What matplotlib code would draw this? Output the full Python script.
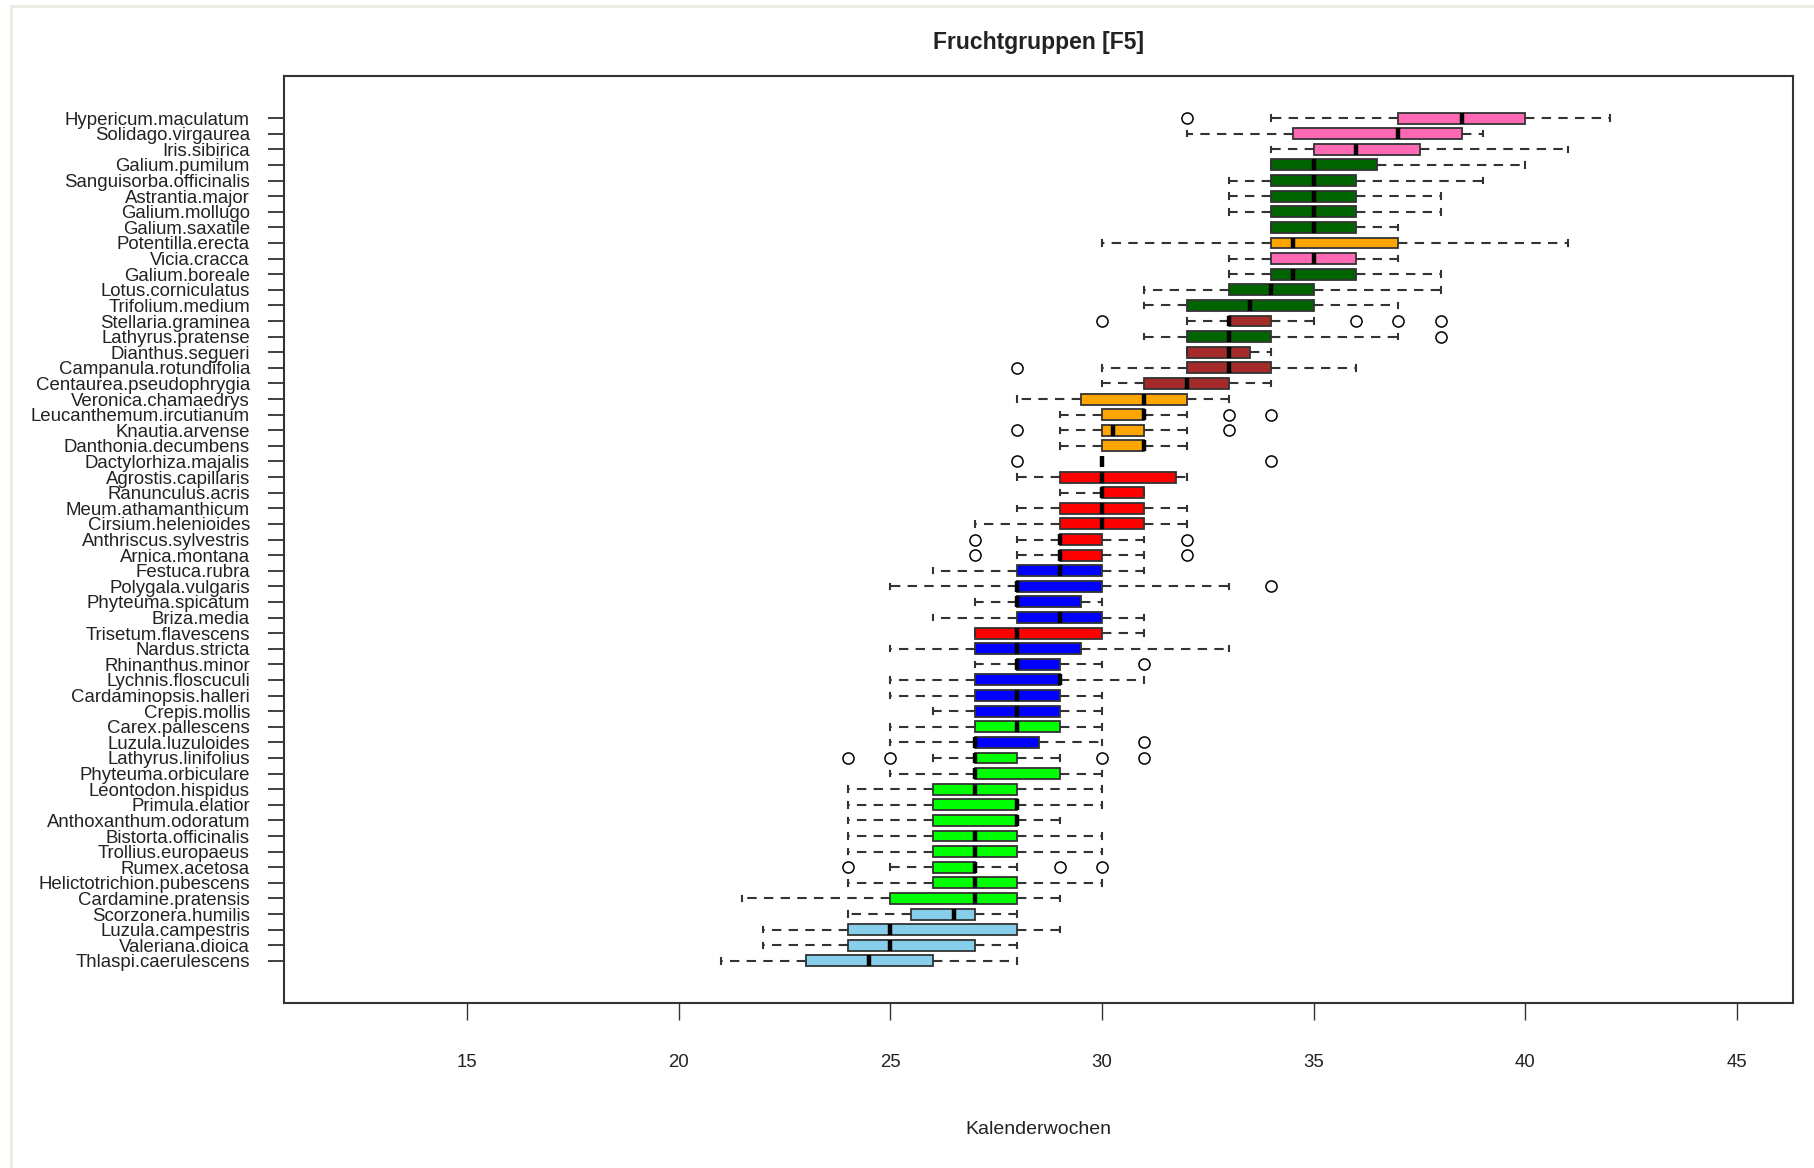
import matplotlib
matplotlib.use("Agg")
import matplotlib.pyplot as plt
from matplotlib.lines import Line2D

plt.rcParams['font.family'] = ['Liberation Sans', 'DejaVu Sans']

# Arten von oben nach unten, mit Fünf-Punkte-Zusammenfassung (Kalenderwochen)
species = [
    "Hypericum.maculatum", "Solidago.virgaurea", "Iris.sibirica", "Galium.pumilum",
    "Sanguisorba.officinalis", "Astrantia.major", "Galium.mollugo", "Galium.saxatile",
    "Potentilla.erecta", "Vicia.cracca", "Galium.boreale", "Lotus.corniculatus",
    "Trifolium.medium", "Stellaria.graminea", "Lathyrus.pratense", "Dianthus.segueri",
    "Campanula.rotundifolia", "Centaurea.pseudophrygia", "Veronica.chamaedrys",
    "Leucanthemum.ircutianum", "Knautia.arvense", "Danthonia.decumbens",
    "Dactylorhiza.majalis", "Agrostis.capillaris", "Ranunculus.acris",
    "Meum.athamanthicum", "Cirsium.helenioides", "Anthriscus.sylvestris",
    "Arnica.montana", "Festuca.rubra", "Polygala.vulgaris", "Phyteuma.spicatum",
    "Briza.media", "Trisetum.flavescens", "Nardus.stricta", "Rhinanthus.minor",
    "Lychnis.floscuculi", "Cardaminopsis.halleri", "Crepis.mollis", "Carex.pallescens",
    "Luzula.luzuloides", "Lathyrus.linifolius", "Phyteuma.orbiculare",
    "Leontodon.hispidus", "Primula.elatior", "Anthoxanthum.odoratum",
    "Bistorta.officinalis", "Trollius.europaeus", "Rumex.acetosa",
    "Helictotrichion.pubescens", "Cardamine.pratensis", "Scorzonera.humilis",
    "Luzula.campestris", "Valeriana.dioica", "Thlaspi.caerulescens",
]

whis_lo = [34, 32, 34, 34, 33, 33, 33, 34, 30, 33, 33, 31, 31, 32, 31, 32, 30, 30,
           28, 29, 29, 29, 30, 28, 29, 28, 27, 28, 28, 26, 25, 27, 26, 27, 25, 27,
           25, 25, 26, 25, 25, 26, 25, 24, 24, 24, 24, 24, 25, 24, 21.5, 24, 22, 22, 21]
q1 = [37, 34.5, 35, 34, 34, 34, 34, 34, 34, 34, 34, 33, 32, 33, 32, 32, 32, 31,
      29.5, 30, 30, 30, 30, 29, 30, 29, 29, 29, 29, 28, 28, 28, 28, 27, 27, 28,
      27, 27, 27, 27, 27, 27, 27, 26, 26, 26, 26, 26, 26, 26, 25, 25.5, 24, 24, 23]
median = [38.5, 37, 36, 35, 35, 35, 35, 35, 34.5, 35, 34.5, 34, 33.5, 33, 33, 33, 33, 32,
          31, 31, 30.25, 31, 30, 30, 30, 30, 30, 29, 29, 29, 28, 28, 29, 28, 28, 28,
          29, 28, 28, 28, 27, 27, 27, 27, 28, 28, 27, 27, 27, 27, 27, 26.5, 25, 25, 24.5]
q3 = [40, 38.5, 37.5, 36.5, 36, 36, 36, 36, 37, 36, 36, 35, 35, 34, 34, 33.5, 34, 33,
      32, 31, 31, 31, 30, 31.75, 31, 31, 31, 30, 30, 30, 30, 29.5, 30, 30, 29.5, 29,
      29, 29, 29, 29, 28.5, 28, 29, 28, 28, 28, 28, 28, 27, 28, 28, 27, 28, 27, 26]
whis_hi = [42, 39, 41, 40, 39, 38, 38, 37, 41, 37, 38, 38, 37, 35, 37, 34, 36, 34,
           33, 32, 32, 32, 30, 32, 31, 32, 32, 31, 31, 31, 33, 30, 31, 31, 33, 30,
           31, 30, 30, 30, 30, 29, 30, 30, 30, 29, 30, 30, 28, 30, 29, 28, 29, 28, 28]
outliers = {
    "Hypericum.maculatum": [32],
    "Stellaria.graminea": [30, 36, 37, 38],
    "Lathyrus.pratense": [38],
    "Campanula.rotundifolia": [28],
    "Leucanthemum.ircutianum": [33, 34],
    "Knautia.arvense": [28, 33],
    "Dactylorhiza.majalis": [28, 34],
    "Anthriscus.sylvestris": [27, 32],
    "Arnica.montana": [27, 32],
    "Polygala.vulgaris": [34],
    "Rhinanthus.minor": [31],
    "Luzula.luzuloides": [31],
    "Lathyrus.linifolius": [24, 25, 30, 31],
    "Rumex.acetosa": [24, 29, 30],
}

# Fruchtgruppe je Art
groups = ["pink", "pink", "pink", "dgreen", "dgreen", "dgreen", "dgreen", "dgreen",
          "orange", "pink", "dgreen", "dgreen", "dgreen", "brown", "dgreen", "brown",
          "brown", "brown", "orange", "orange", "orange", "orange", "orange",
          "red", "red", "red", "red", "red", "red", "blue", "blue", "blue", "blue",
          "red", "blue", "blue", "blue", "blue", "blue", "green", "blue", "green",
          "green", "green", "green", "green", "green", "green", "green", "green",
          "green", "sky", "sky", "sky", "sky"]
group_colors = {"pink": "#FF69B4", "dgreen": "#006400", "orange": "#FFA500",
                "brown": "#A52A2A", "red": "#FF0000", "blue": "#0000FF",
                "green": "#00FF00", "sky": "#87CEEB"}

n = len(species)
stats = []
for i, name in enumerate(species):
    stats.append(dict(label=name, whislo=whis_lo[i], q1=q1[i], med=median[i],
                      q3=q3[i], whishi=whis_hi[i], fliers=outliers.get(name, [])))
positions = [n - i for i in range(n)]

fig = plt.figure(figsize=(18.14, 11.68), dpi=100)
ax = fig.add_axes([284 / 1814, 1 - 1003 / 1168, (1793 - 284) / 1814, (1003 - 76) / 1168])

edge = "#333333"
bp = ax.bxp(stats, positions=positions, orientation="horizontal", widths=0.7,
            capwidths=0.35, patch_artist=True, manage_ticks=False,
            boxprops=dict(edgecolor=edge, linewidth=1.3),
            medianprops=dict(color="black", linewidth=3.2, solid_capstyle="butt"),
            whiskerprops=dict(color=edge, linewidth=1.5, linestyle=(0, (4.5, 3.5))),
            capprops=dict(color=edge, linewidth=1.5),
            flierprops=dict(marker="o", markerfacecolor="none", markeredgecolor="black",
                            markersize=8, markeredgewidth=1.1))
for patch, g in zip(bp["boxes"], groups):
    patch.set_facecolor(group_colors[g])

ax.set_xlim(10.68, 46.32)
ax.set_ylim(-1.7, 57.7)
ax.set_xticks([15, 20, 25, 30, 35, 40, 45])
ax.set_yticks(positions)
ax.set_yticklabels(species)
ax.tick_params(axis="y", length=11.5, width=1.3, pad=13, labelsize=13.4,
               colors=edge, labelcolor="#222222")
ax.tick_params(axis="x", length=12, width=1.0, pad=25, labelsize=13.4,
               colors=edge, labelcolor="#222222")
for sp in ax.spines.values():
    sp.set_linewidth(1.5)
    sp.set_color(edge)

ax.set_title("Fruchtgruppen [F5]", fontsize=16.5, fontweight="bold", color="#222222",
             y=1 + 34 / 927, va="center", pad=0)
ax.set_xlabel("Kalenderwochen", fontsize=14, color="#222222")
ax.xaxis.set_label_coords(0.5, -127 / 927)
ax.xaxis.label.set_va("center")

# heller Rahmen oben und links
frame = "#EEEAE0"
fig.add_artist(Line2D([11 / 1814, 1], [1 - 6 / 1168, 1 - 6 / 1168], color=frame, lw=2))
fig.add_artist(Line2D([11 / 1814, 11 / 1814], [0, 1 - 6 / 1168], color=frame, lw=2))

fig.savefig("out.png", dpi=100)
